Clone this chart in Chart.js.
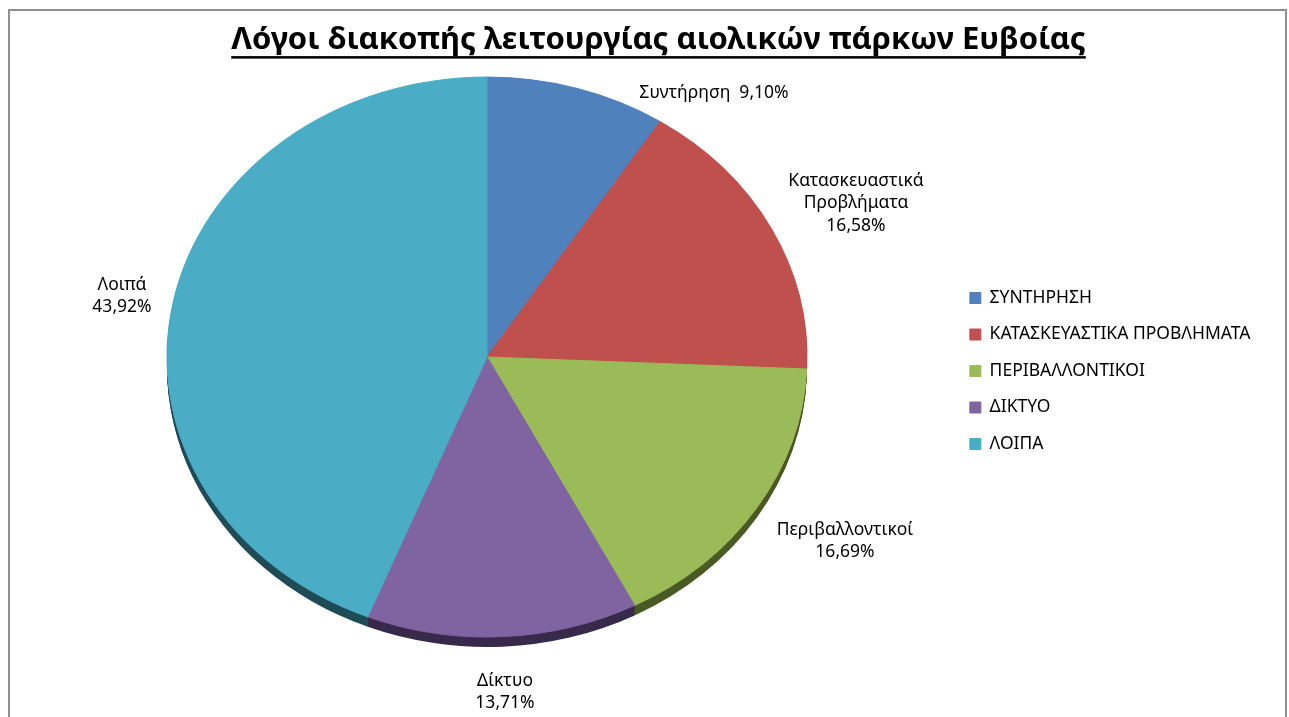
<!DOCTYPE html>
<html>
<head>
<meta charset="utf-8">
<script src="https://cdn.jsdelivr.net/npm/chart.js@4.4.1/dist/chart.umd.min.js"></script>
<style>
    html, body { margin: 0; padding: 0; background: #ffffff; overflow: hidden; }
    #frame {
        position: absolute; left: 8px; top: 9px; width: 1275px; height: 740px;
        border: 2px solid #8f8f8f; border-bottom: none;
    }
    #wrap { position: absolute; left: 0; top: 0; width: 1289px; height: 717px; }
</style>
</head>
<body>
<div id="frame"></div>
<div id="wrap"><canvas id="pieChart"></canvas></div>
<script>
/* ===================================
   ΛΟΓΟΙ ΔΙΑΚΟΠΗΣ - ΑΙΟΛΙΚΑ ΠΑΡΚΑ ΕΥΒΟΙΑΣ
   =================================== */

const TITLE = 'Λόγοι διακοπής λειτουργίας αιολικών πάρκων Ευβοίας';

const CATEGORIES = ['Συντήρηση', 'Κατασκευαστικά Προβλήματα', 'Περιβαλλοντικοί', 'Δίκτυο', 'Λοιπά'];
const LEGEND_LABELS = ['ΣΥΝΤΗΡΗΣΗ', 'ΚΑΤΑΣΚΕΥΑΣΤΙΚΑ ΠΡΟΒΛΗΜΑΤΑ', 'ΠΕΡΙΒΑΛΛΟΝΤΙΚΟΙ', 'ΔΙΚΤΥΟ', 'ΛΟΙΠΑ'];
const SHARES = [9.10, 16.58, 16.69, 13.71, 43.92];

const COLORS = ['#4F81BD', '#C0504D', '#9BBB59', '#8064A2', '#4BACC6'];
const EDGE_COLORS = ['#2d4a6d', '#6b2c2a', '#4a5a24', '#382a4b', '#1f4c57'];

const FONT = "'Noto Sans', 'Open Sans', sans-serif";

// ellipse the pie is squashed into (tilted look) and thickness of its rim
const PIE = { cx: 487, cy: 357, rx: 320, ry: 280, depth: 10 };

// where each slice label sits (centre of the text block)
const LABEL_LAYOUT = [
    { x: 714, y: 93, inline: true },
    { x: 856, y: 181 },
    { x: 845, y: 530 },
    { x: 505, y: 681 },
    { x: 122, y: 285 }
];
const LABEL_LINE_HEIGHT = 22.5;

function formatShare(value) {
    return value.toFixed(2).replace('.', ',') + '%';
}

function labelLines(i) {
    const pct = formatShare(SHARES[i]);
    if (LABEL_LAYOUT[i].inline) return [CATEGORIES[i] + '  ' + pct];
    return [...CATEGORIES[i].split(' '), pct];
}

function applyTilt(ctx, arc, offset) {
    const { x, y, outerRadius } = arc.getProps(['x', 'y', 'outerRadius'], true);
    ctx.translate(PIE.cx, PIE.cy + offset);
    ctx.scale(PIE.rx / outerRadius, PIE.ry / outerRadius);
    ctx.translate(-x, -y);
}

const tiltPlugin = {
    id: 'tilt',
    beforeDatasetsDraw(chart) {
        const ctx = chart.ctx;
        const arcs = chart.getDatasetMeta(0).data;
        if (!arcs.length) return;

        // rim: the slices swept downwards in darker shades
        for (let d = PIE.depth; d >= 1; d--) {
            ctx.save();
            applyTilt(ctx, arcs[0], d);
            arcs.forEach((arc, i) => {
                const p = arc.getProps(['x', 'y', 'startAngle', 'endAngle', 'outerRadius'], true);
                ctx.beginPath();
                ctx.moveTo(p.x, p.y);
                ctx.arc(p.x, p.y, p.outerRadius, p.startAngle, p.endAngle);
                ctx.closePath();
                ctx.fillStyle = EDGE_COLORS[i];
                ctx.fill();
            });
            ctx.restore();
        }

        ctx.save();
        applyTilt(ctx, arcs[0], 0);
    },
    afterDatasetsDraw(chart) {
        chart.ctx.restore();
    }
};

const titleUnderlinePlugin = {
    id: 'titleUnderline',
    afterDraw(chart) {
        const opts = chart.options.plugins.title;
        const block = chart.titleBlock;
        const ctx = chart.ctx;
        ctx.save();
        ctx.font = `bold ${opts.font.size}px ${FONT}`;
        const w = ctx.measureText(TITLE).width;
        const cx = (block.left + block.right) / 2;
        const cy = block.top + opts.padding.top + opts.font.size * 1.2 / 2;
        const y = cy + opts.font.size * 0.5;
        ctx.fillStyle = '#000000';
        ctx.fillRect(cx - w / 2, y, w, 2.5);
        ctx.restore();
    }
};

const sliceLabelPlugin = {
    id: 'sliceLabels',
    afterDraw(chart) {
        const ctx = chart.ctx;
        ctx.save();
        ctx.font = `17.5px ${FONT}`;
        ctx.fillStyle = '#000000';
        ctx.textAlign = 'center';
        ctx.textBaseline = 'middle';
        LABEL_LAYOUT.forEach((pos, i) => {
            labelLines(i).forEach((line, k) => {
                ctx.fillText(line, pos.x, pos.y + k * LABEL_LINE_HEIGHT);
            });
        });
        ctx.restore();
    }
};

function createPieChart() {
    const canvas = document.getElementById('pieChart');
    if (!canvas) return;

    new Chart(canvas.getContext('2d'), {
        type: 'pie',
        data: {
            labels: LEGEND_LABELS,
            datasets: [{
                data: SHARES,
                backgroundColor: COLORS,
                borderColor: COLORS,
                borderWidth: 1
            }]
        },
        options: {
            responsive: true,
            maintainAspectRatio: false,
            animation: false,
            layout: {
                padding: { left: 56.5, right: 28.5, top: 25, bottom: 0 }
            },
            plugins: {
                title: {
                    display: true,
                    text: TITLE,
                    color: '#000000',
                    font: { family: FONT, size: 31, weight: 'bold' },
                    padding: { top: -3, bottom: 31 }
                },
                legend: {
                    position: 'right',
                    align: 'center',
                    labels: {
                        color: '#000000',
                        font: { family: FONT, size: 17.5 },
                        boxWidth: 11,
                        boxHeight: 11,
                        padding: 19
                    }
                },
                tooltip: { enabled: false }
            }
        },
        plugins: [tiltPlugin, titleUnderlinePlugin, sliceLabelPlugin]
    });
}

document.addEventListener('DOMContentLoaded', () => {
    createPieChart();
});
</script>
</body>
</html>
